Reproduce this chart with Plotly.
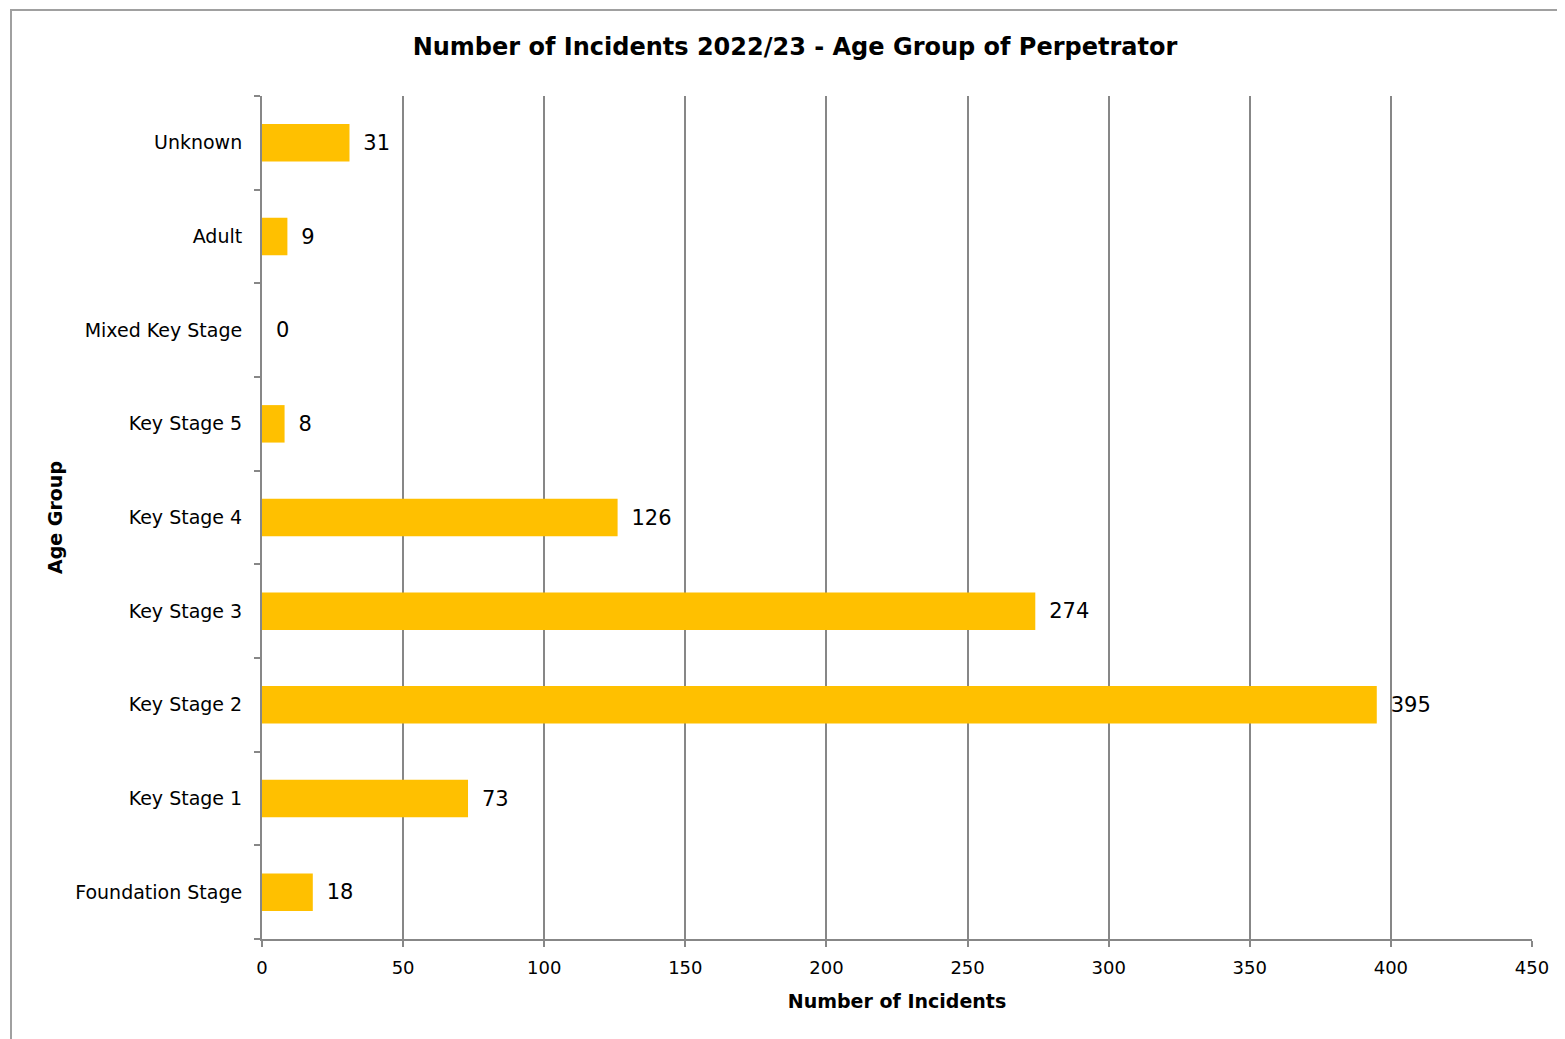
import plotly.graph_objects as go

categories = ["Foundation Stage", "Key Stage 1", "Key Stage 2", "Key Stage 3",
              "Key Stage 4", "Key Stage 5", "Mixed Key Stage", "Adult", "Unknown"]
incidents = [18, 73, 395, 274, 126, 8, 0, 9, 31]
x_ticks = [0, 50, 100, 150, 200, 250, 300, 350, 400, 450]

FONT = "Tahoma, Verdana, DejaVu Sans, sans-serif"
GRID = "#878787"

OFF = 8  # page body margin
W, H = 1565, 1039
L, R, T, B = 262 - OFF, 1532 - OFF, 96 - OFF, 939 - OFF

fig = go.Figure(go.Bar(
    y=categories, x=incidents, orientation="h",
    marker=dict(color="#FFC000", line=dict(width=0)),
    text=[f" \u2009{v}" for v in incidents], textposition="outside",
    textfont=dict(family=FONT, size=21, color="#000000"),
    cliponaxis=False, showlegend=False,
))

fig.update_layout(
    width=W, height=H,
    margin=dict(l=L, r=W - R, t=T, b=H - B, pad=0),
    paper_bgcolor="white", plot_bgcolor="white",
    bargap=0.6,
    font=dict(family=FONT, size=18, color="#000000"),
    title=dict(text="<b>Number of Incidents 2022/23 - Age Group of Perpetrator</b>",
               x=(795 - OFF) / W, xanchor="center", y=1 - (47 - OFF) / H, yanchor="middle",
               font=dict(family=FONT, size=24, color="#000000")),
    xaxis=dict(range=[0, 450], tickvals=x_ticks, showgrid=True, gridcolor=GRID, gridwidth=2,
               showline=True, linecolor=GRID, linewidth=2, ticks="outside", ticklen=6,
               tickcolor=GRID, tickwidth=2, zeroline=False, ticklabelstandoff=5,
               tickfont=dict(family=FONT, size=18),
               title=dict(text="<b>Number of Incidents</b>", standoff=18,
                          font=dict(family=FONT, size=19))),
    yaxis=dict(type="category", categoryorder="array", categoryarray=categories,
               showline=True, linecolor=GRID, linewidth=2, showgrid=False,
               ticks="outside", ticklen=6, tickcolor=GRID, tickwidth=2,
               tickson="boundaries", ticklabelstandoff=14,
               tickfont=dict(family=FONT, size=19),
               title=dict(text="<b>Age Group</b>", standoff=8,
                          font=dict(family=FONT, size=19))),
    shapes=[dict(type="rect", xref="paper", yref="paper",
                 x0=(11 - OFF - L) / (R - L), x1=(W + 20 - L) / (R - L),
                 y0=(B - (H + 20)) / (B - T), y1=(B - (10 - OFF)) / (B - T),
                 line=dict(color="#A0A0A0", width=2), fillcolor="rgba(0,0,0,0)",
                 layer="below")],
)

fig.write_html("out.html")
